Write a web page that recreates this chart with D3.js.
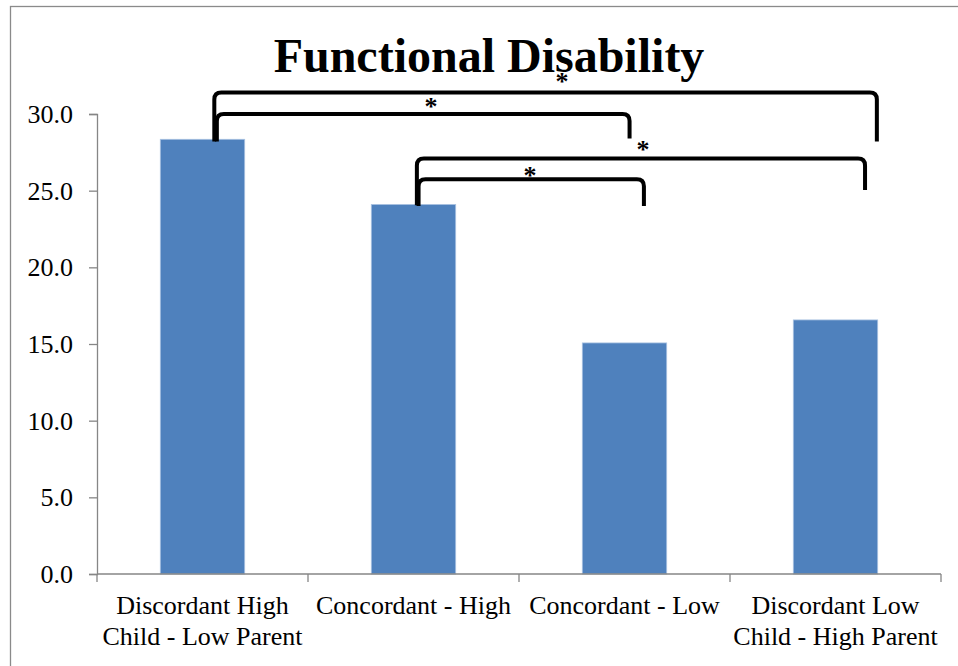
<!DOCTYPE html>
<html>
<head>
<meta charset="utf-8">
<script src="https://cdn.jsdelivr.net/npm/d3@7"></script>
<style>
  html, body { margin: 0; padding: 0; background: #fff; }
  svg { display: block; font-family: "Liberation Serif", "Times New Roman", serif; }
</style>
</head>
<body>
<svg id="chart" width="958" height="666"></svg>
<script>
// ---- data ----
const categories = [
  ["Discordant High", "Child - Low Parent"],
  ["Concordant - High"],
  ["Concordant - Low"],
  ["Discordant Low", "Child - High Parent"]
];
const values = [28.35, 24.1, 15.07, 16.57];
const yTicks = [0, 5, 10, 15, 20, 25, 30];
const chartTitle = "Functional Disability";
// significance brackets: from/to category index, bracket level (y value), leg end values
const bracketFrom  = [0, 0, 1, 1];
const bracketTo    = [3, 2, 3, 2];
const bracketLevel = [31.4, 30.0, 27.1, 25.75];
const legStart     = [28.2, 28.2, 24.05, 24.0];
const legEnd       = [28.2, 28.4, 25.05, 24.0];
const bracketLabel = ["*", "*", "*", "*"];

// ---- layout ----
const svg = d3.select("#chart");
const W = 958, H = 666;
const plot = { left: 97, right: 941, top: 114, bottom: 574 };

const x = d3.scaleBand()
  .domain(d3.range(categories.length))
  .range([plot.left, plot.right])
  .paddingInner(0.6)
  .paddingOuter(0.3);
const xStep = d3.scaleBand()
  .domain(d3.range(categories.length))
  .range([plot.left, plot.right])
  .padding(0);
const y = d3.scaleLinear().domain([0, 30]).range([plot.bottom, plot.top]);

// outer chart border
svg.append("rect")
  .attr("x", 10.5).attr("y", 6.5)
  .attr("width", W + 20).attr("height", H + 20)
  .attr("fill", "none").attr("stroke", "#8a8a8a").attr("stroke-width", 1.3);

// title
svg.append("text")
  .attr("x", 489).attr("y", 72)
  .attr("text-anchor", "middle")
  .attr("font-size", 48).attr("font-weight", "bold")
  .attr("fill", "#000")
  .text(chartTitle);

// bars
svg.append("g").selectAll("rect")
  .data(values)
  .join("rect")
  .attr("x", (d, i) => x(i))
  .attr("width", x.bandwidth())
  .attr("y", d => y(d))
  .attr("height", d => y(0) - y(d))
  .attr("fill", "#4f81bd")
  .attr("stroke", "#a9c2e2")
  .attr("stroke-width", 0.8);

// y axis
const yAxis = d3.axisLeft(y)
  .tickValues(yTicks)
  .tickFormat(d3.format(".1f"))
  .tickSize(8)
  .tickPadding(16);
const gy = svg.append("g").attr("transform", `translate(${plot.left},0)`).call(yAxis);
gy.select(".domain").attr("stroke", "#868686").attr("stroke-width", 1.3);
gy.selectAll(".tick line").attr("stroke", "#868686").attr("stroke-width", 1.3);
gy.selectAll(".tick text")
  .attr("font-size", 26).attr("fill", "#000")
  .attr("font-family", "Liberation Serif, Times New Roman, serif")
  .attr("dy", "0.33em");

// x axis (ticks at category boundaries)
const gx = svg.append("g").attr("transform", `translate(0,${plot.bottom})`);
gx.append("line")
  .attr("x1", plot.left).attr("x2", plot.right)
  .attr("stroke", "#868686").attr("stroke-width", 1.3);
const boundaries = d3.range(categories.length + 1).map(i =>
  i < categories.length ? xStep(i) : xStep(i - 1) + xStep.bandwidth());
gx.selectAll("line.tk")
  .data(boundaries)
  .join("line")
  .attr("class", "tk")
  .attr("x1", d => d).attr("x2", d => d)
  .attr("y1", 0).attr("y2", 8)
  .attr("stroke", "#868686").attr("stroke-width", 1.3);

const labels = gx.selectAll("text.cat")
  .data(categories)
  .join("text")
  .attr("class", "cat")
  .attr("text-anchor", "middle")
  .attr("font-size", 26)
  .attr("fill", "#000");
labels.each(function(lines, i) {
  const t = d3.select(this);
  lines.forEach((ln, k) => {
    t.append("tspan")
      .attr("x", xStep(i) + xStep.bandwidth() / 2)
      .attr("y", 40 + k * 31)
      .text(ln);
  });
});

// significance brackets
const cx = i => x(i) + x.bandwidth() / 2;
const leftOff  = [0.14, 0.17, 0.04, 0.06];
const rightOff = [0.49, 0.06, 0.35, 0.23];
const r = 7;
const g = svg.append("g");
bracketFrom.forEach((a, k) => {
  const b = bracketTo[k];
  const x1 = cx(a) + leftOff[k] * x.bandwidth();
  const x2 = cx(b) + rightOff[k] * x.bandwidth();
  const yt = y(bracketLevel[k]);
  const y1 = y(legStart[k]);
  const y2 = y(legEnd[k]);
  const p = d3.path();
  p.moveTo(x1, y1);
  p.lineTo(x1, yt + r);
  p.quadraticCurveTo(x1, yt, x1 + r, yt);
  p.lineTo(x2 - r, yt);
  p.quadraticCurveTo(x2, yt, x2, yt + r);
  p.lineTo(x2, y2);
  g.append("path")
    .attr("d", p.toString())
    .attr("fill", "none")
    .attr("stroke", "#000")
    .attr("stroke-width", 4);
});

// star labels (positions relative to brackets)
const starX = [562, 431, 643, 530];
const starLevel = [31.4, 30.0, 27.1, 25.75];
const starDy = [-15, -11, -12, -7.5];
svg.append("g").selectAll("text")
  .data(bracketLabel)
  .join("text")
  .attr("x", (d, k) => starX[k])
  .attr("y", (d, k) => y(starLevel[k]) + starDy[k] + 12)
  .attr("text-anchor", "middle")
  .attr("font-size", 26)
  .attr("font-weight", "bold")
  .attr("fill", "#000")
  .text(d => d);
</script>
</body>
</html>
